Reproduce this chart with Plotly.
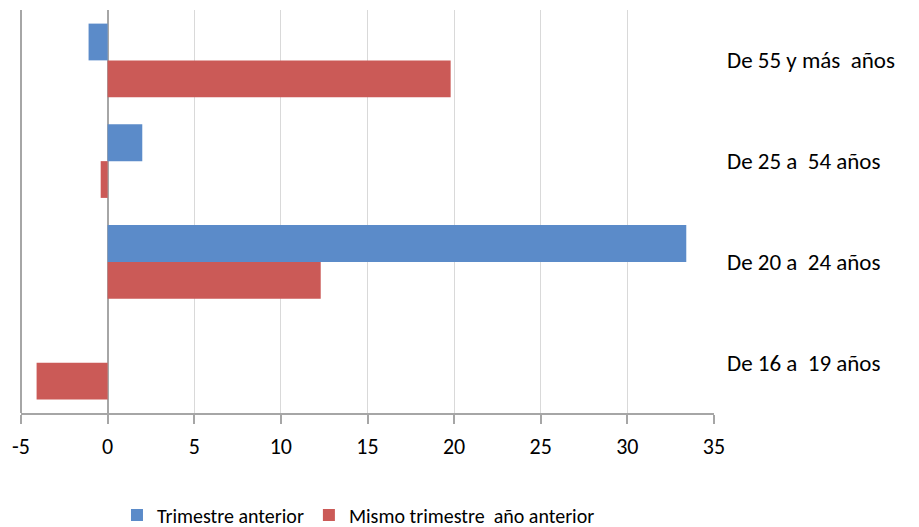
import plotly.graph_objects as go

categorias = ["De 16 a  19 años", "De 20 a  24 años", "De 25 a  54 años", "De 55 y más  años"]
trimestre_anterior = [0, 33.4, 2.0, -1.1]
mismo_trimestre = [-4.1, 12.3, -0.4, 19.8]
x_ticks = [-5, 0, 5, 10, 15, 20, 25, 30, 35]

FONT = "Carlito, Lato, Liberation Sans, Arial, sans-serif"

fig = go.Figure()
fig.add_trace(go.Bar(
    y=categorias, x=mismo_trimestre, orientation="h",
    name="Mismo trimestre  año anterior", marker_color="#CB5A57",
    marker_line_width=0, legendrank=2,
))
fig.add_trace(go.Bar(
    y=categorias, x=trimestre_anterior, orientation="h",
    name="Trimestre anterior", marker_color="#5B8BC9",
    marker_line_width=0, legendrank=1,
))

# The page body has an 8px default margin, so the figure is offset by (8, 8).
fig.update_layout(
    width=919, height=527,
    margin=dict(l=13, r=213, t=2, b=122, autoexpand=False),
    paper_bgcolor="white", plot_bgcolor="white",
    barmode="group", bargap=0.27, bargroupgap=0,
    font=dict(family=FONT, size=22, color="#000000"),
    showlegend=True,
    legend=dict(orientation="h", x=0.1385, xanchor="left", y=-0.253, yanchor="middle",
                font=dict(size=20), itemwidth=30, traceorder="normal"),
    xaxis=dict(
        range=[-5, 35], tickvals=x_ticks, ticktext=[str(v) for v in x_ticks],
        showgrid=True, gridcolor="#D9D9D9", gridwidth=1,
        zeroline=True, zerolinecolor="#A6A6A6", zerolinewidth=2,
        showline=True, linecolor="#A6A6A6", linewidth=2,
        ticks="outside", ticklen=9, tickcolor="#A6A6A6", tickwidth=2,
        tickfont=dict(size=22), automargin=False, ticklabelstandoff=4,
    ),
    yaxis=dict(
        categoryorder="array", categoryarray=categorias,
        side="right", showgrid=False, zeroline=False, showline=False,
        ticks="", ticklabelstandoff=12, tickfont=dict(size=23), automargin=False,
    ),
    shapes=[dict(type="line", xref="x domain", yref="y domain", x0=0, x1=0, y0=0, y1=1,
                 line=dict(color="#A6A6A6", width=2))],
)

fig.write_html("out.html")
